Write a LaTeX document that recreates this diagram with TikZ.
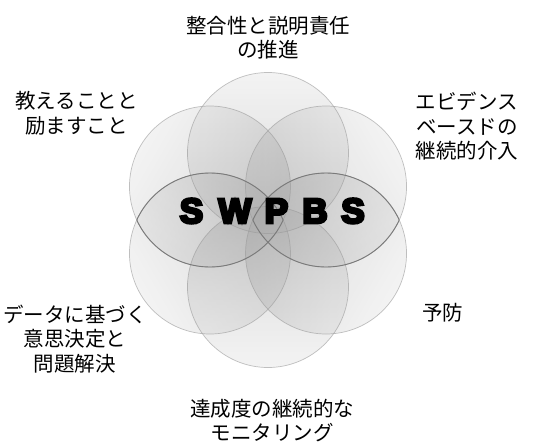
\documentclass[tikz,border=0pt]{standalone}
\usepackage{fontspec}
\newfontfamily\jp{Noto Sans CJK JP}
\newfontfamily\swfont[FakeBold=8]{Liberation Sans Bold}
\begin{document}
\begin{tikzpicture}[x=1pt,y=-1pt,
  ring/.style={draw=black!40, line width=0.7pt, opacity=0.6},
  lensline/.style={draw=black!52, line width=0.9pt},
  lbl/.style={font=\jp\fontsize{20.5}{24.5}\selectfont, align=center, inner sep=0pt, text=black},
  title/.style={font=\swfont\fontsize{35}{40}\selectfont, inner sep=0pt, text=black}]
\fill[white] (0,0) rectangle (533,442);
\useasboundingbox (0,0) rectangle (533,442);
\def\R{80.5pt}
\foreach \a in {90,30,150,210,270,330}{
  \coordinate (c\a) at ({268+67*cos(\a)},{220-67*sin(\a)});
}
\foreach \a in {90,30,150,210,270,330}{
  \shade[top color=black!10, bottom color=black!34, shading angle={\a-90}, fill opacity=0.45] (c\a) circle[radius=\R];
}
\foreach \a in {90,30,150,210,270,330}{
  \draw[ring] (c\a) circle[radius=\R];
}
% darker lens outlines
\begin{scope}
  \clip (c210) circle[radius=\R];
  \draw[lensline] (c150) circle[radius=\R];
\end{scope}
\begin{scope}
  \clip (c150) circle[radius=\R];
  \draw[lensline] (c210) circle[radius=\R];
\end{scope}
\begin{scope}
  \clip (c330) circle[radius=\R];
  \draw[lensline] (c30) circle[radius=\R];
\end{scope}
\begin{scope}
  \clip (c30) circle[radius=\R];
  \draw[lensline] (c330) circle[radius=\R];
\end{scope}
\node[title, anchor=base] (sw) at (272.25,223) {\makebox[0pt]{S}\hspace{43.5pt}\makebox[0pt]{W}\hspace{41.5pt}\makebox[0pt]{P}\hspace{38.5pt}\makebox[0pt]{B}\hspace{38pt}\makebox[0pt]{S}};
\node[lbl] (top) at (268,37.5) {整合性と説明責任\\の推進};
\node[lbl] (ul) at (76.5,113.5) {教えることと\\励ますこと};
\node[lbl] (ur) at (467,126.5) {エビデンス\\ベースドの\\継続的介入};
\node[lbl] (rt) at (442.5,313) {予防};
\node[lbl] (ll) at (75,339) {データに基づく\\意思決定と\\問題解決};
\node[lbl] (bt) at (272,420.5) {達成度の継続的な\\モニタリング};
\end{tikzpicture}
\end{document}
